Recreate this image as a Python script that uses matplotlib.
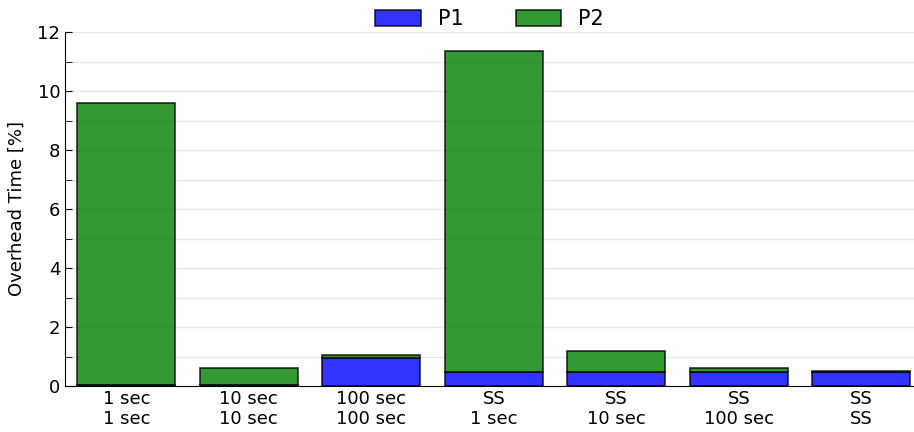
import matplotlib
matplotlib.use("Agg")
import matplotlib.pyplot as plt
import numpy as np

labels = ["1 sec\n1 sec", "10 sec\n10 sec", "100 sec\n100 sec", "SS\n1 sec",
          "SS\n10 sec", "SS\n100 sec", "SS\nSS"]
p1 = [0.02, 0.02, 0.95, 0.48, 0.48, 0.48, 0.48]
total = [9.58, 0.60, 1.05, 11.35, 1.20, 0.60, 0.50]
p2 = [t - a for t, a in zip(total, p1)]

fig = plt.figure(figsize=(9.14, 4.32), dpi=100)
ax = fig.add_axes([65/914, 46/432, 849/914, 354/432])

x = np.arange(len(labels))
ax.bar(x, p1, 0.8, color='blue', alpha=0.8, edgecolor='black', linewidth=1.2, label='P1', zorder=3)
ax.bar(x, p2, 0.8, bottom=p1, color='green', alpha=0.8, edgecolor='black', linewidth=1.2, label='P2', zorder=3)

ax.set_xlim(-0.5, 6.43)
ax.set_ylim(0, 12)
ax.set_yticks(np.arange(0, 13, 2))
ax.set_yticks(np.arange(1, 12, 2), minor=True)
ax.set_xticks(x)
ax.set_xticklabels(labels, fontsize=13, linespacing=1.1)
ax.tick_params(axis='y', which='both', direction='in', length=5, labelsize=13)
ax.tick_params(axis='x', length=0, pad=3)
ax.grid(axis='y', which='both', color='#e8e8e8', linewidth=1, zorder=0)
ax.set_axisbelow(True)
ax.spines['top'].set_visible(False)
ax.spines['right'].set_visible(False)
ax.set_ylabel("Overhead Time [%]", fontsize=13, labelpad=8)

ax.legend(loc='lower center', bbox_to_anchor=(0.5, 0.985), ncol=2, frameon=False,
          fontsize=15, handlelength=2.2, handleheight=0.8, columnspacing=2.5, borderaxespad=0)

fig.savefig("out.png", dpi=100)
